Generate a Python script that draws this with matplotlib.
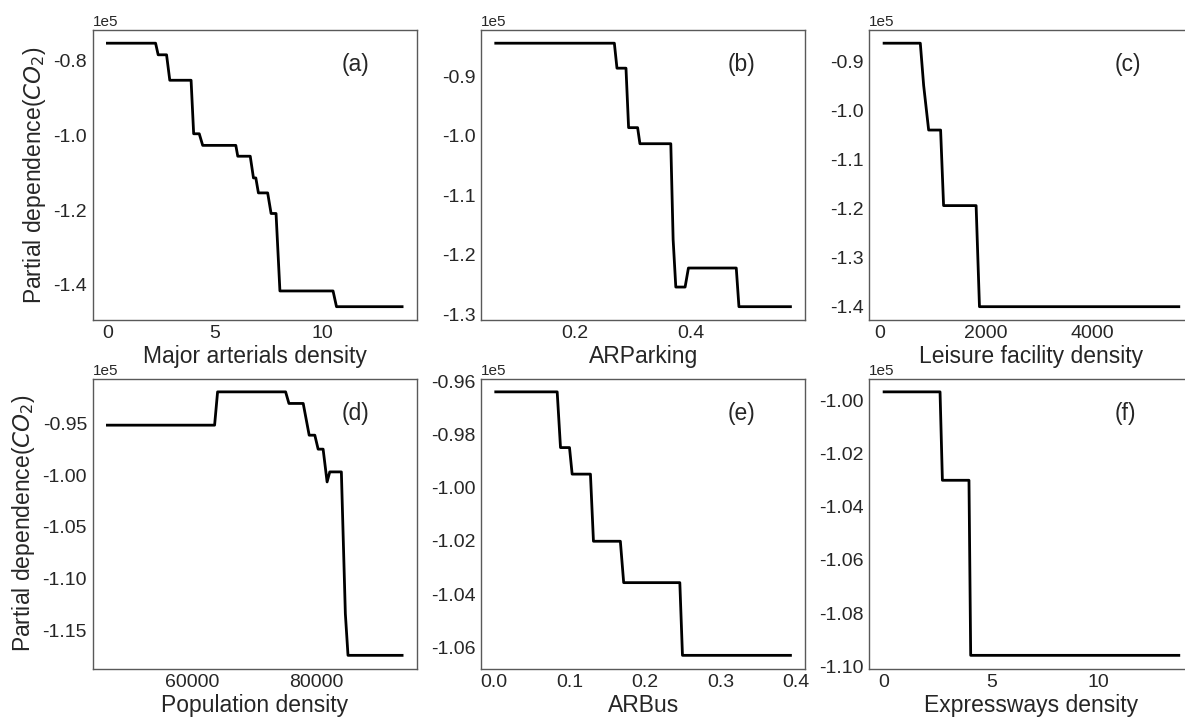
import matplotlib
matplotlib.use("Agg")
import matplotlib.pyplot as plt

# === Partial dependence curves (corner points) ===
maj_x = [0, 2.24, 2.36, 2.75, 2.90, 3.89, 4.01, 4.27, 4.43, 5.97, 6.06, 6.64, 6.79,
         6.90, 7.02, 7.45, 7.61, 7.84, 8.02, 10.49, 10.65, 13.7]
maj_y = [-75400, -75400, -78500, -78500, -85300, -85300, -99600, -99600, -102700,
         -102700, -105600, -105600, -111400, -111400, -115400, -115400, -120900,
         -120900, -141600, -141600, -145800, -145800]

park_x = [0.0646, 0.2686, 0.2731, 0.2886, 0.2931, 0.3086, 0.3126, 0.3657, 0.3697,
          0.3743, 0.3903, 0.3960, 0.4783, 0.4829, 0.5715]
park_y = [-84400, -84400, -88600, -88600, -98600, -98600, -101300, -101300, -117400,
          -125400, -125400, -122200, -122200, -128700, -128700]

leis_x = [81, 762, 825, 919, 1144, 1200, 1812, 1875, 5625]
leis_y = [-86300, -86300, -94900, -104000, -104000, -119400, -119400, -140000, -140000]

pop_x = [46400, 63627, 64107, 75040, 75573, 77867, 78827, 79733, 80267, 81067,
         81707, 82133, 84000, 84640, 85067, 93760]
pop_y = [-95160, -95160, -91940, -91940, -93060, -93060, -96130, -96130, -97480,
         -97480, -100650, -99680, -99680, -113390, -117420, -117420]

bus_x = [0.0026, 0.0839, 0.0883, 0.1002, 0.1037, 0.1279, 0.1319, 0.1675, 0.1719,
         0.2462, 0.2497, 0.3926]
bus_y = [-96380, -96380, -98480, -98480, -99480, -99480, -102010, -102010, -103570,
         -103570, -106310, -106310]

exp_x = [0.0, 2.61, 2.72, 3.96, 4.04, 13.75]
exp_y = [-99687, -99687, -103010, -103010, -109590, -109590]

xlabels = ["Major arterials density", "ARParking", "Leisure facility density",
           "Population density", "ARBus", "Expressways density"]
tags = ["(a)", "(b)", "(c)", "(d)", "(e)", "(f)"]
xticks = [[0, 5, 10], [0.2, 0.4], [0, 2000, 4000], [60000, 80000],
          [0.0, 0.1, 0.2, 0.3, 0.4], [0, 5, 10]]
yticks = [[-0.8e5, -1.0e5, -1.2e5, -1.4e5],
          [-0.9e5, -1.0e5, -1.1e5, -1.2e5, -1.3e5],
          [-0.9e5, -1.0e5, -1.1e5, -1.2e5, -1.3e5, -1.4e5],
          [-0.95e5, -1.00e5, -1.05e5, -1.10e5, -1.15e5],
          [-0.96e5, -0.98e5, -1.00e5, -1.02e5, -1.04e5, -1.06e5],
          [-1.00e5, -1.02e5, -1.04e5, -1.06e5, -1.08e5, -1.10e5]]

curves = [(maj_x, maj_y), (park_x, park_y), (leis_x, leis_y),
          (pop_x, pop_y), (bus_x, bus_y), (exp_x, exp_y)]
tag_x = [0.81, 0.803, 0.796, 0.81, 0.803, 0.79]

# === Style ===
plt.rcParams["font.family"] = ["Liberation Sans", "DejaVu Sans"]
plt.rcParams["axes.unicode_minus"] = False
plt.rcParams["text.color"] = "0.15"
plt.rcParams["axes.labelcolor"] = "0.15"
plt.rcParams["xtick.color"] = "0.15"
plt.rcParams["ytick.color"] = "0.15"

fig, axes = plt.subplots(2, 3, figsize=(11.85, 7.2), dpi=100)
fig.subplots_adjust(left=0.0782, right=1.0072, top=0.9583, bottom=0.0715,
                    wspace=0.198, hspace=0.203)

for i, ax in enumerate(axes.flat):
    x, y = curves[i]
    ax.plot(x, y, color="black", linewidth=2.0)
    ax.set_xticks(xticks[i])
    ax.set_yticks(yticks[i])
    ax.ticklabel_format(axis="y", style="sci", scilimits=(0, 0))
    ax.yaxis.get_offset_text().set_fontsize(11)
    ax.tick_params(length=0, labelsize=14, pad=4)
    ax.set_xlabel(xlabels[i], fontsize=16.5, labelpad=2)
    for sp in ax.spines.values():
        sp.set_color("0.35")
        sp.set_linewidth(1.0)
    ax.text(tag_x[i], 0.88, tags[i], transform=ax.transAxes, fontsize=16.5,
            ha="center", va="center")
    if i % 3 == 0:
        ax.set_ylabel("Partial dependence($CO_2$)", fontsize=16.5)

plt.savefig("out.png", dpi=100)
